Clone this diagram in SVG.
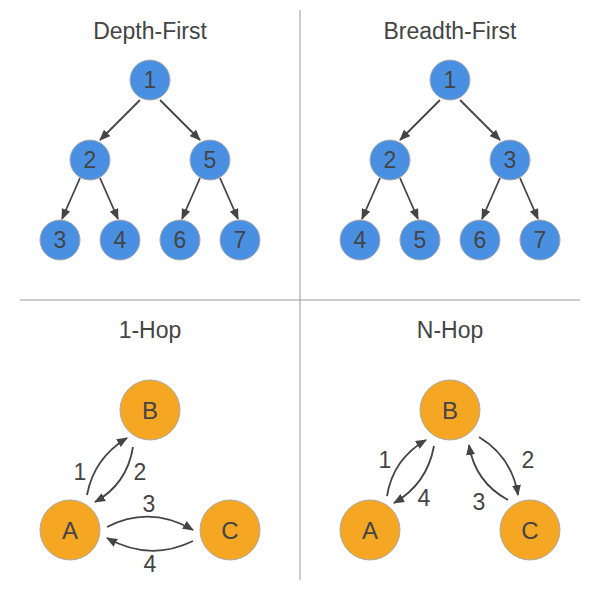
<svg xmlns="http://www.w3.org/2000/svg" width="600" height="600" viewBox="0 0 600 600">
<defs>
<marker id="ah" markerWidth="11" markerHeight="9" refX="10" refY="4.5" orient="auto" markerUnits="userSpaceOnUse">
<path d="M0,0 L11,4.5 L0,9 z" fill="#444"/>
</marker>
<style>
.t{font-family:"Liberation Sans",Arial,sans-serif;fill:#444;text-anchor:middle}
.title{font-size:23px}
.nl{font-size:23px;dominant-baseline:central}
.ol{font-size:24px;dominant-baseline:central}
.el{font-size:23px;dominant-baseline:central}
.b{fill:#4a90e2;stroke:#aaa;stroke-width:1}
.o{fill:#f5a623;stroke:#aaa;stroke-width:1}
.e{fill:none;stroke:#444;stroke-width:1.8;marker-end:url(#ah)}
.div{stroke:#999;stroke-width:1}
</style>
</defs>
<rect width="600" height="600" fill="#fff"/>
<line class="div" x1="300" y1="10" x2="300" y2="580"/>
<line class="div" x1="20" y1="300" x2="580" y2="300"/>
<text class="t title" x="150" y="39">Depth-First</text>
<text class="t title" x="450" y="39">Breadth-First</text>
<text class="t title" x="150" y="338">1-Hop</text>
<text class="t title" x="450" y="338">N-Hop</text>
<g id="connectors">
<line class="e" x1="140" y1="100" x2="100" y2="140"/>
<line class="e" x1="160" y1="100" x2="200" y2="140"/>
<line class="e" x1="80" y1="178" x2="62" y2="219"/>
<line class="e" x1="100" y1="178" x2="118" y2="219"/>
<line class="e" x1="200" y1="178" x2="182" y2="219"/>
<line class="e" x1="220" y1="178" x2="238" y2="219"/>
<line class="e" x1="440" y1="100" x2="400" y2="140"/>
<line class="e" x1="460" y1="100" x2="500" y2="140"/>
<line class="e" x1="380" y1="178" x2="362" y2="219"/>
<line class="e" x1="400" y1="178" x2="418" y2="219"/>
<line class="e" x1="500" y1="178" x2="482" y2="219"/>
<line class="e" x1="520" y1="178" x2="538" y2="219"/>
<path class="e" d="M87,495 Q94,458 127,438"/>
<path class="e" d="M133,447 Q127,484 95,502"/>
<path class="e" d="M107,527 Q150,505 193,530"/>
<path class="e" d="M193,541 Q150,562 107,538"/>
<path class="e" d="M387,496 Q393,459 426,440"/>
<path class="e" d="M434,446 Q427,484 394,503"/>
<path class="e" d="M479,437 Q512,457 518,495"/>
<path class="e" d="M508,500 Q475,482 469,445"/>
</g>
<g class="t el">
<text x="80" y="472">1</text>
<text x="140" y="472">2</text>
<text x="149" y="504">3</text>
<text x="150" y="564">4</text>
<text x="385" y="460">1</text>
<text x="424" y="498">4</text>
<text x="528" y="460">2</text>
<text x="479" y="502">3</text>
</g>
<g id="df1"><circle class="b" cx="150" cy="80" r="20"/><text class="t nl" x="150" y="80">1</text></g>
<g id="df2"><circle class="b" cx="90" cy="160" r="20"/><text class="t nl" x="90" y="160">2</text></g>
<g id="df5"><circle class="b" cx="210" cy="160" r="20"/><text class="t nl" x="210" y="160">5</text></g>
<g id="df3"><circle class="b" cx="60" cy="240" r="20"/><text class="t nl" x="60" y="240">3</text></g>
<g id="df4"><circle class="b" cx="120" cy="240" r="20"/><text class="t nl" x="120" y="240">4</text></g>
<g id="df6"><circle class="b" cx="180" cy="240" r="20"/><text class="t nl" x="180" y="240">6</text></g>
<g id="df7"><circle class="b" cx="240" cy="240" r="20"/><text class="t nl" x="240" y="240">7</text></g>
<g id="bf1"><circle class="b" cx="450" cy="80" r="20"/><text class="t nl" x="450" y="80">1</text></g>
<g id="bf2"><circle class="b" cx="390" cy="160" r="20"/><text class="t nl" x="390" y="160">2</text></g>
<g id="bf3"><circle class="b" cx="510" cy="160" r="20"/><text class="t nl" x="510" y="160">3</text></g>
<g id="bf4"><circle class="b" cx="360" cy="240" r="20"/><text class="t nl" x="360" y="240">4</text></g>
<g id="bf5"><circle class="b" cx="420" cy="240" r="20"/><text class="t nl" x="420" y="240">5</text></g>
<g id="bf6"><circle class="b" cx="480" cy="240" r="20"/><text class="t nl" x="480" y="240">6</text></g>
<g id="bf7"><circle class="b" cx="540" cy="240" r="20"/><text class="t nl" x="540" y="240">7</text></g>
<g id="h1B"><circle class="o" cx="150" cy="410" r="30"/><text class="t ol" x="150" y="410">B</text></g>
<g id="h1A"><circle class="o" cx="70" cy="530" r="30"/><text class="t ol" x="70" y="530">A</text></g>
<g id="h1C"><circle class="o" cx="230" cy="530" r="30"/><text class="t ol" x="230" y="530">C</text></g>
<g id="hnB"><circle class="o" cx="450" cy="410" r="30"/><text class="t ol" x="450" y="410">B</text></g>
<g id="hnA"><circle class="o" cx="370" cy="530" r="30"/><text class="t ol" x="370" y="530">A</text></g>
<g id="hnC"><circle class="o" cx="530" cy="530" r="30"/><text class="t ol" x="530" y="530">C</text></g>
</svg>
